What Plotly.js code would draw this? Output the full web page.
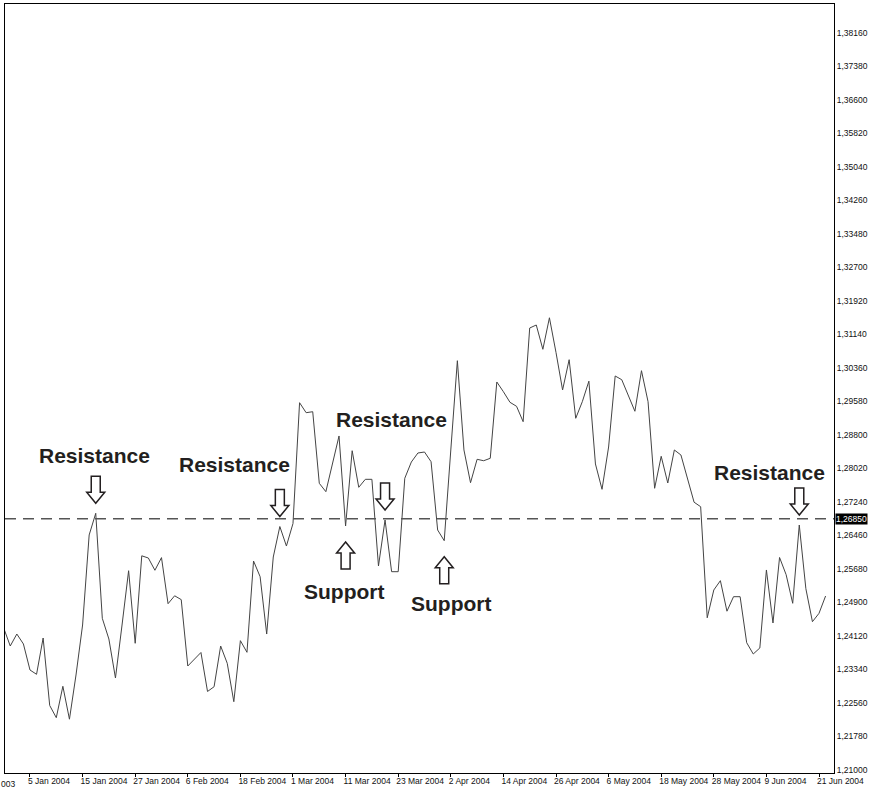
<!DOCTYPE html>
<html>
<head>
<meta charset="utf-8">
<script src="https://cdn.plot.ly/plotly-3.0.1.min.js"></script>
<style>
html,body{margin:0;padding:0;background:#fff;}
#chart{width:872px;height:792px;}
</style>
</head>
<body>
<div id="chart"></div>
<script>
// Trading days (categories)
const dates = [
"30 Dec 2003","31 Dec 2003","1 Jan 2004","2 Jan 2004",
"5 Jan 2004","6 Jan 2004","7 Jan 2004","8 Jan 2004","9 Jan 2004",
"12 Jan 2004","13 Jan 2004","14 Jan 2004","15 Jan 2004","16 Jan 2004",
"19 Jan 2004","20 Jan 2004","21 Jan 2004","22 Jan 2004","23 Jan 2004",
"26 Jan 2004","27 Jan 2004","28 Jan 2004","29 Jan 2004","30 Jan 2004",
"2 Feb 2004","3 Feb 2004","4 Feb 2004","5 Feb 2004","6 Feb 2004",
"9 Feb 2004","10 Feb 2004","11 Feb 2004","12 Feb 2004","13 Feb 2004",
"16 Feb 2004","17 Feb 2004","18 Feb 2004","19 Feb 2004","20 Feb 2004",
"23 Feb 2004","24 Feb 2004","25 Feb 2004","26 Feb 2004","27 Feb 2004",
"1 Mar 2004","2 Mar 2004","3 Mar 2004","4 Mar 2004","5 Mar 2004",
"8 Mar 2004","9 Mar 2004","10 Mar 2004","11 Mar 2004","12 Mar 2004",
"15 Mar 2004","16 Mar 2004","17 Mar 2004","18 Mar 2004","19 Mar 2004",
"22 Mar 2004","23 Mar 2004","24 Mar 2004","25 Mar 2004","26 Mar 2004",
"29 Mar 2004","30 Mar 2004","31 Mar 2004","1 Apr 2004","2 Apr 2004",
"5 Apr 2004","6 Apr 2004","7 Apr 2004","8 Apr 2004","9 Apr 2004",
"12 Apr 2004","13 Apr 2004","14 Apr 2004","15 Apr 2004","16 Apr 2004",
"19 Apr 2004","20 Apr 2004","21 Apr 2004","22 Apr 2004","23 Apr 2004",
"26 Apr 2004","27 Apr 2004","28 Apr 2004","29 Apr 2004","30 Apr 2004",
"3 May 2004","4 May 2004","5 May 2004","6 May 2004","7 May 2004",
"10 May 2004","11 May 2004","12 May 2004","13 May 2004","14 May 2004",
"17 May 2004","18 May 2004","19 May 2004","20 May 2004","21 May 2004",
"24 May 2004","25 May 2004","26 May 2004","27 May 2004","28 May 2004",
"31 May 2004","1 Jun 2004","2 Jun 2004","3 Jun 2004","4 Jun 2004",
"7 Jun 2004","8 Jun 2004","9 Jun 2004","10 Jun 2004","11 Jun 2004",
"14 Jun 2004","15 Jun 2004","16 Jun 2004","17 Jun 2004","18 Jun 2004",
"21 Jun 2004","22 Jun 2004"
];

// Closing prices
const closes = [
1.24306,1.23887,1.24166,1.23934,
1.23328,1.23228,1.24073,1.22502,1.22218,1.22949,1.22183,1.23212,1.24376,1.26472,
1.26977,1.24532,1.24050,1.23142,1.24376,1.25640,1.23950,1.25987,1.25936,1.25650,
1.25945,1.24872,1.25056,1.24967,1.23421,1.23577,1.23736,1.22828,1.22939,1.23887,
1.23484,1.22590,1.24011,1.23740,1.25866,1.25501,1.24166,1.25959,1.26669,1.26215,
1.26739,1.29552,1.29319,1.29342,1.27675,1.27480,1.28155,1.28777,1.26681,1.28434,
1.27582,1.27768,1.27768,1.25750,1.26821,1.25617,1.25617,1.27792,1.28171,1.28381,
1.28404,1.28178,1.26588,1.26339,1.28451,1.30530,1.28451,1.27689,1.28234,1.28201,
1.28257,1.30034,1.29808,1.29561,1.29468,1.29110,1.31291,1.31361,1.30795,1.31529,
1.30721,1.29848,1.30553,1.29189,1.29575,1.30053,1.28125,1.27535,1.28520,1.30174,
1.30087,1.29708,1.29352,1.30297,1.29575,1.27559,1.28304,1.27682,1.28451,1.28334,
1.27810,1.27235,1.27130,1.24544,1.25191,1.25408,1.24697,1.25035,1.25035,1.23964,
1.23701,1.23841,1.25657,1.24423,1.25948,1.25547,1.24881,1.26704,1.25221,1.24453,
1.24648,1.25051
];

const tickLabels = ["5 Jan 2004","15 Jan 2004","27 Jan 2004","6 Feb 2004","18 Feb 2004",
"1 Mar 2004","11 Mar 2004","23 Mar 2004","2 Apr 2004","14 Apr 2004","26 Apr 2004",
"6 May 2004","18 May 2004","28 May 2004","9 Jun 2004","21 Jun 2004"];

const levelValue = 1.2685;
const levelLabel = "1,26850";

const resistanceDates = ["19 Jan 2004","26 Feb 2004","19 Mar 2004","16 Jun 2004"];
const supportDates = ["11 Mar 2004","1 Apr 2004"];

const labelFont = {family: "Liberation Sans Narrow, Arial Narrow, Liberation Sans, Arial, sans-serif", size: 8.5, color: "#111"};
const bigFont = {family: "Liberation Sans, Arial, Helvetica, sans-serif", size: 21, color: "#231f20"};

function valAt(d){ return closes[dates.indexOf(d)]; }

const downPath = "M 0 10 L -9 21 L -4.5 21 L -4.5 37 L 4.5 37 L 4.5 21 L 9 21 Z";
const upPath = "M 0 -16 L -9 -27 L -4.5 -27 L -4.5 -43 L 4.5 -43 L 4.5 -27 L 9 -27 Z";

const shapes = [
  {type: "line", xref: "paper", x0: 0, x1: 1, yref: "y", y0: levelValue, y1: levelValue,
   line: {color: "#555", width: 1.5, dash: "11px,7px"}}
];
resistanceDates.forEach(d => shapes.push({type: "path", xref: "x", yref: "y",
  xsizemode: "pixel", ysizemode: "pixel", xanchor: d, yanchor: valAt(d), path: downPath,
  fillcolor: "#fff", line: {color: "#231f20", width: 1.5}}));
supportDates.forEach(d => shapes.push({type: "path", xref: "x", yref: "y",
  xsizemode: "pixel", ysizemode: "pixel", xanchor: d, yanchor: valAt(d), path: upPath,
  fillcolor: "#fff", line: {color: "#231f20", width: 1.5}}));

const textSpecs = [
  {d: "19 Jan 2004", t: "Resistance", dx: -1, dy: -58},
  {d: "26 Feb 2004", t: "Resistance", dx: -45, dy: -62},
  {d: "19 Mar 2004", t: "Resistance", dx: 6, dy: -100},
  {d: "11 Mar 2004", t: "Support", dx: -2, dy: 65},
  {d: "1 Apr 2004", t: "Support", dx: 7, dy: 63},
  {d: "16 Jun 2004", t: "Resistance", dx: -30, dy: -53}
];

const annotations = textSpecs.map(s => ({
  x: s.d, y: valAt(s.d), xref: "x", yref: "y", text: s.t, showarrow: false,
  xanchor: "center", yanchor: "middle", xshift: s.dx, yshift: -s.dy,
  font: Object.assign({}, bigFont, {weight: "bold"})
}));
annotations.push({xref: "paper", x: 1, xanchor: "left", xshift: 1, yref: "y", y: levelValue,
  text: levelLabel, showarrow: false, bgcolor: "#000", borderpad: 0,
  font: Object.assign({}, labelFont, {color: "#fff"})});
annotations.push({xref: "paper", x: 0, xanchor: "right", xshift: 12, yref: "paper", y: 0,
  yanchor: "top", yshift: -4, text: "003", showarrow: false, font: labelFont});

const xIdx0 = 0.2, xIdx1 = 126.28;

const data = [{
  type: "scatter", mode: "lines", x: dates, y: closes,
  line: {color: "#444", width: 1}, hoverinfo: "skip"
}];

const layout = {
  width: 872, height: 792,
  margin: {l: 5, r: 38, t: 4, b: 19},
  paper_bgcolor: "#fff", plot_bgcolor: "#fff",
  separators: ",.",
  showlegend: false,
  xaxis: {
    type: "category", range: [xIdx0, xIdx1],
    tickmode: "array", tickvals: tickLabels, ticktext: tickLabels,
    ticks: "outside", ticklen: 3, tickcolor: "#000", tickwidth: 1,
    ticklabelposition: "outside right", tickangle: 0, ticklabelshift: -3,
    showgrid: false, zeroline: false,
    showline: true, mirror: true, linecolor: "#000", linewidth: 1,
    tickfont: labelFont, automargin: false
  },
  yaxis: {
    side: "right", range: [1.2093, 1.38835],
    tickmode: "linear", tick0: 1.21, dtick: 0.0078, tickformat: ".5f",
    ticks: "", showgrid: false, zeroline: false,
    showline: true, mirror: true, linecolor: "#000", linewidth: 1,
    tickfont: labelFont, automargin: false
  },
  shapes: shapes,
  annotations: annotations
};

Plotly.newPlot("chart", data, layout, {displayModeBar: false, staticPlot: true});
</script>
</body>
</html>
